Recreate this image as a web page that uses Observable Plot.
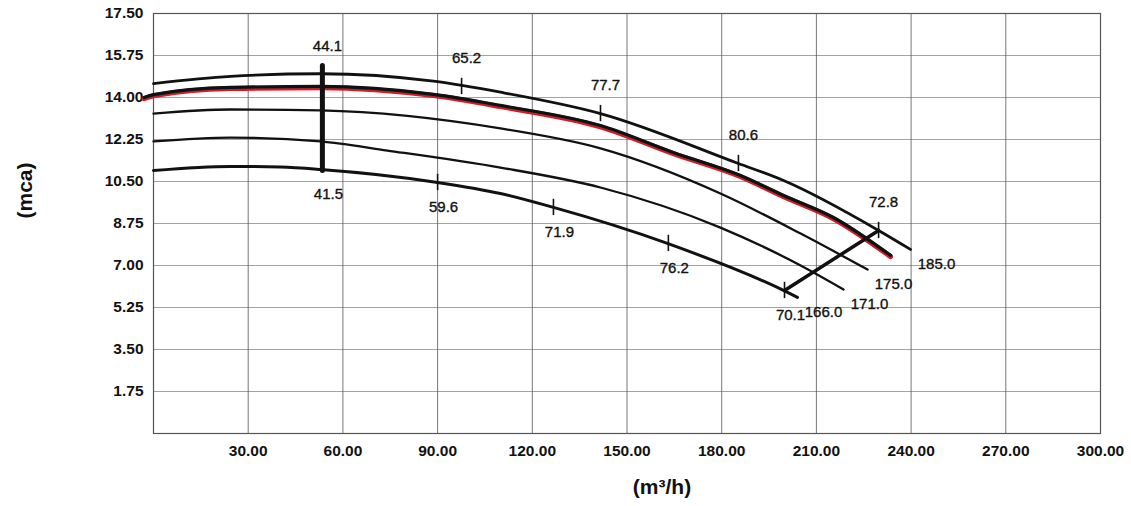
<!DOCTYPE html>
<html><head><meta charset="utf-8">
<script src="https://cdn.jsdelivr.net/npm/d3@7"></script>
<script src="https://cdn.jsdelivr.net/npm/@observablehq/plot@0.6"></script>
<style>body{margin:0;background:#fff}#chart svg{font-family:"Liberation Sans",Arial,sans-serif}</style>
</head><body><div id="chart"></div>
<script>
// Impeller curves: flow (m³/h) and head (mca)
const flow185 = [0, 24.4, 52.9, 88.7, 109.9, 141.6, 185.3, 199.6, 229.7, 239.8];
const head185 = [14.58, 14.88, 14.99, 14.68, 14.22, 13.33, 11.25, 10.54, 8.46, 7.67];
const flowRed = [-3, 0, 24.4, 52.9, 88.7, 109.9, 141.6, 164.7, 186, 199.6, 215.4, 233.5];
const headRed = [14.0, 14.12, 14.42, 14.46, 14.13, 13.67, 12.83, 11.71, 10.75, 9.92, 9.0, 7.42];
const flow175 = [0, 24.4, 52.9, 109.9, 141.6, 179.6, 205, 226.2];
const head175 = [13.33, 13.5, 13.46, 12.71, 11.88, 10.0, 8.33, 6.83];
const flow171 = [0, 24.4, 52.9, 74.1, 109.9, 141.6, 179.6, 205, 218.6];
const head171 = [12.17, 12.33, 12.17, 11.79, 11.08, 10.25, 8.58, 7.0, 6.0];
const flow166 = [0, 24.4, 40.2, 52.9, 90, 109.9, 126.7, 162.8, 199.6, 204];
const head166 = [10.96, 11.13, 11.1, 11.0, 10.46, 10.0, 9.42, 7.92, 5.96, 5.67];

const diameterLabels = ["185.0", "175.0", "171.0", "166.0"];

// Efficiency marks on top curve and bottom curve
const effTopFlow = [53.5, 97.6, 141.6, 185.3, 229.7];
const effTopHead = [14.99, 14.46, 13.33, 11.25, 8.46];
const effTopLabel = ["44.1", "65.2", "77.7", "80.6", "72.8"];
const effBotFlow = [53.5, 90, 126.7, 163.1, 199.9];
const effBotHead = [11.0, 10.46, 9.42, 7.92, 5.96];
const effBotLabel = ["41.5", "59.6", "71.9", "76.2", "70.1"];

// Limit lines
const limitMinFlow = [53.5, 53.5];
const limitMinHead = [15.33, 10.96];
const limitMaxFlow = [199.9, 229.7];
const limitMaxHead = [5.96, 8.46];

const xTicks = [30, 60, 90, 120, 150, 180, 210, 240, 270, 300];
const yTicks = [1.75, 3.5, 5.25, 7.0, 8.75, 10.5, 12.25, 14.0, 15.75, 17.5];

const pts = (xs, ys) => xs.map((x, i) => ({x, y: ys[i]}));
const c185 = pts(flow185, head185), cRed = pts(flowRed, headRed), c175 = pts(flow175, head175),
      c171 = pts(flow171, head171), c166 = pts(flow166, head166);
const ends = [c185, c175, c171, c166].map((c, i) => ({...c[c.length - 1], label: diameterLabels[i]}));
const effTop = effTopFlow.map((x, i) => ({x, y: effTopHead[i], label: effTopLabel[i]}));
const effBot = effBotFlow.map((x, i) => ({x, y: effBotHead[i], label: effBotLabel[i]}));
const fmt = d3.format(".2f");
const lineOpts = {x: "x", y: "y", stroke: "#111", strokeWidth: 2.8, curve: "monotone-x"};
const lblOpts = {fontSize: 15, fill: "#111", stroke: "#111", strokeWidth: 0.35};

const chart = Plot.plot({
  width: 1131, height: 506,
  marginLeft: 153, marginRight: 31, marginTop: 13, marginBottom: 73,
  x: {domain: [0, 300]},
  y: {domain: [0, 17.5]},
  marks: [
    Plot.gridY(yTicks, {stroke: "#8a7f84", strokeOpacity: 0.75, strokeWidth: 1}),
    Plot.gridX(xTicks, {stroke: "#555", strokeOpacity: 0.8, strokeWidth: 1}),
    Plot.frame({stroke: "#555", strokeWidth: 1.2}),
    Plot.axisX(xTicks, {tickSize: 0, tickPadding: 11, tickFormat: fmt, fontSize: 15.5, fontWeight: "bold", label: null, fill: "#111"}),
    Plot.axisY(yTicks, {tickSize: 0, tickPadding: 10, tickFormat: fmt, fontSize: 15.5, fontWeight: "bold", label: null, fill: "#111"}),
    Plot.text(["(mca)"], {frameAnchor: "left", dx: -128, dy: -5, rotate: -90, fontSize: 21, fontWeight: "bold", fill: "#111"}),
    Plot.text(["(m³/h)"], {frameAnchor: "bottom", dx: 35, dy: 60, fontSize: 21, fontWeight: "bold", fill: "#111"}),
    Plot.line(cRed, {x: "x", y: "y", stroke: "#c8202a", strokeWidth: 5, dy: 1.2, curve: "monotone-x"}),
    Plot.line(cRed, {...lineOpts, strokeWidth: 3.2}),
    Plot.line(c185, lineOpts),
    Plot.line(c175, {...lineOpts, strokeWidth: 2.3}),
    Plot.line(c171, {...lineOpts, strokeWidth: 2.3}),
    Plot.line(c166, {...lineOpts, strokeWidth: 3}),
    Plot.line(pts(limitMinFlow, limitMinHead), {x: "x", y: "y", stroke: "#111", strokeWidth: 5}),
    Plot.line(pts(limitMaxFlow, limitMaxHead), {x: "x", y: "y", stroke: "#111", strokeWidth: 3.5}),
    Plot.ruleX(effTop.slice(1), {x: "x", y1: d => d.y - 0.34, y2: d => d.y + 0.34, stroke: "#111", strokeWidth: 1.6}),
    Plot.ruleX(effBot.slice(1), {x: "x", y1: d => d.y - 0.34, y2: d => d.y + 0.34, stroke: "#111", strokeWidth: 1.6}),
    Plot.text(effTop, {x: "x", y: "y", text: "label", dx: 5, dy: -28, ...lblOpts}),
    Plot.text(effBot, {x: "x", y: "y", text: "label", dx: 6, dy: 25, ...lblOpts}),
    Plot.text(ends, {x: "x", y: "y", text: "label", dx: 26, dy: 15, ...lblOpts})
  ]
});
document.getElementById("chart").appendChild(chart);
</script>
</body></html>
